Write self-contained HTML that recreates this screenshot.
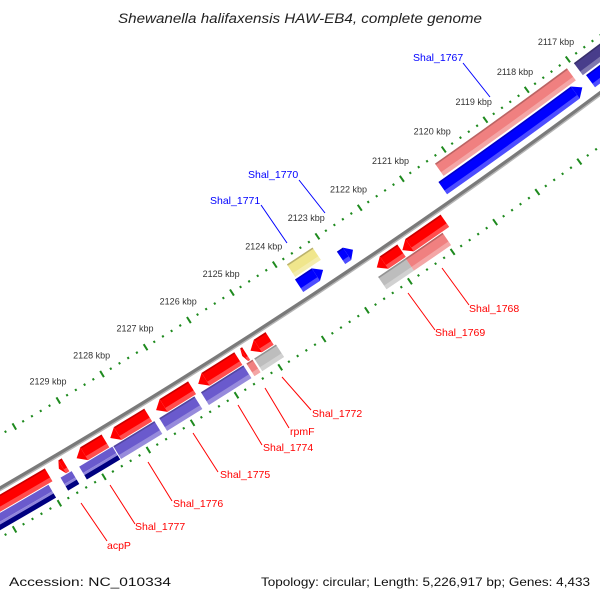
<!DOCTYPE html>
<html><head><meta charset="utf-8"><style>
html,body{margin:0;padding:0;background:#fff}
svg{display:block;font-family:"Liberation Sans",sans-serif}
</style></head><body>
<svg id="chart" width="600" height="600" viewBox="0 0 600 600" xmlns="http://www.w3.org/2000/svg">
<rect width="600" height="600" fill="#fff"/>
<g id="ticks"></g>
<g id="backbone"></g>
<g id="features"></g>
<g id="ticklabels"></g>
<g font-size="10.5">
 <g><line x1="463" y1="63" x2="490" y2="97" stroke="#0000ff" stroke-width="1"/><text x="413" y="61" fill="#0000ff">Shal_1767</text></g>
 <g><line x1="299" y1="180" x2="325" y2="213" stroke="#0000ff" stroke-width="1"/><text x="248" y="178" fill="#0000ff">Shal_1770</text></g>
 <g><line x1="261" y1="205" x2="287" y2="243" stroke="#0000ff" stroke-width="1"/><text x="210" y="204" fill="#0000ff">Shal_1771</text></g>
 <g><line x1="442" y1="268" x2="469" y2="305" stroke="#ff0000" stroke-width="1"/><text x="469" y="312" fill="#ff0000">Shal_1768</text></g>
 <g><line x1="408" y1="293" x2="435" y2="330" stroke="#ff0000" stroke-width="1"/><text x="435" y="336" fill="#ff0000">Shal_1769</text></g>
 <g><line x1="282" y1="377" x2="311" y2="410" stroke="#ff0000" stroke-width="1"/><text x="312" y="417" fill="#ff0000">Shal_1772</text></g>
 <g><line x1="265" y1="388" x2="289" y2="428" stroke="#ff0000" stroke-width="1"/><text x="290" y="435" fill="#ff0000">rpmF</text></g>
 <g><line x1="238" y1="405" x2="262" y2="445" stroke="#ff0000" stroke-width="1"/><text x="263" y="451" fill="#ff0000">Shal_1774</text></g>
 <g><line x1="193" y1="433" x2="218" y2="472" stroke="#ff0000" stroke-width="1"/><text x="220" y="478" fill="#ff0000">Shal_1775</text></g>
 <g><line x1="148" y1="462" x2="172" y2="501" stroke="#ff0000" stroke-width="1"/><text x="173" y="507" fill="#ff0000">Shal_1776</text></g>
 <g><line x1="110" y1="485" x2="135" y2="524" stroke="#ff0000" stroke-width="1"/><text x="135" y="530" fill="#ff0000">Shal_1777</text></g>
 <g><line x1="81" y1="503" x2="107" y2="541" stroke="#ff0000" stroke-width="1"/><text x="107" y="549" fill="#ff0000">acpP</text></g>
</g>
<text x="300" y="23" text-anchor="middle" font-size="13.5" font-style="italic" fill="#222" textLength="364" lengthAdjust="spacingAndGlyphs">Shewanella halifaxensis HAW-EB4, complete genome</text>
<text x="9" y="586" font-size="12" fill="#111" textLength="162" lengthAdjust="spacingAndGlyphs">Accession: NC_010334</text>
<text x="261" y="586" font-size="12" fill="#111" textLength="329" lengthAdjust="spacingAndGlyphs">Topology: circular; Length: 5,226,917 bp; Genes: 4,433</text>
</svg>
<script>
// ---- data (kbp) ----
const tickKbp = [2117,2118,2119,2120,2121,2122,2123,2124,2125,2126,2127,2128,2129];
const tickLabels = ["2117 kbp","2118 kbp","2119 kbp","2120 kbp","2121 kbp","2122 kbp","2123 kbp","2124 kbp","2125 kbp","2126 kbp","2127 kbp","2128 kbp","2129 kbp"];
const featLo = [2114.0,2117.12,2114.0,2117.1,2122.57,2123.2,2123.27,2121.8,2120.78,2121.82,2120.95,2129.9,2129.52,2128.62,2127.65,2126.65,2125.59,2125.41,2124.87,2130.0,2129.48,2128.56,2127.61,2126.70,2125.58,2125.37,2124.83];
const featHi = [2116.95,2120.3,2116.9,2120.45,2122.85,2123.8,2123.83,2122.38,2121.78,2122.46,2121.82,2132.5,2129.67,2129.27,2128.51,2127.47,2126.51,2125.5,2125.31,2132.5,2129.73,2129.31,2128.54,2127.5,2126.55,2125.51,2125.33];
const featTrack = [-2,-2,-1,-1,-1,-2,-1,1,1,2,2,1,1,1,1,1,1,1,1,2,2,2,2,2,2,2,2];
const featColor = ["#483d8b","#f08080","#0000ff","#0000ff","#0000ff","#f0e68c","#0000ff","#ff0000","#ff0000","#bdbdbd","#f08080","#ff0000","#ff0000","#ff0000","#ff0000","#ff0000","#ff0000","#ff0000","#ff0000","#6a5acd","#6a5acd","#6a5acd","#6a5acd","#6a5acd","#6a5acd","#f08080","#bdbdbd"];
const featColor2 = ["","","","","","","","","","","","","","","","","","","","#000080","#000080","#000080","","","","",""];
const featArrow = ["","","","lo","lo","","lo","hi","hi","","","","hi","hi","hi","hi","hi","hi","hi","","","","","","","",""];

// ---- geometry ----
const CX=-3062.5, CY=-4814, A0=56.69, DEG=0.482, R=6123, HALF=7.5;
const trackR = {"-2":6091,"-1":6108,"1":6136,"2":6152};
function ang(k){return (A0+(k-2124)*DEG)*Math.PI/180;}
function pt(r,k){const a=ang(k);return [CX+r*Math.cos(a),CY+r*Math.sin(a)];}
function f(p){return p[0].toFixed(2)+","+p[1].toFixed(2);}
function band(r1,r2,lo,hi){
  return "M"+f(pt(r1,lo))+" A"+r1+","+r1+" 0 0 1 "+f(pt(r1,hi))+" L"+f(pt(r2,hi))+" A"+r2+","+r2+" 0 0 0 "+f(pt(r2,lo))+" Z";
}
const NS="http://www.w3.org/2000/svg";
function mk(tag,attrs,parent){const e=document.createElementNS(NS,tag);for(const k in attrs)e.setAttribute(k,attrs[k]);parent.appendChild(e);return e;}

// backbone
const bb=document.getElementById('backbone');
const bk=mk('path',{d:"M"+f(pt(R,2113))+" A"+R+","+R+" 0 0 1 "+f(pt(R,2134)),fill:"none",stroke:"#7a7a7a","stroke-width":3.5},bb);


const bk2=mk('path',{d:"M"+f(pt(R+2.2,2113))+" A"+(R+2.2)+","+(R+2.2)+" 0 0 1 "+f(pt(R+2.2,2134)),fill:"none",stroke:"#b5b5b5","stroke-width":1.4},bb);



// tick rings
const tg=document.getElementById('ticks');
[6077,6166].forEach(function(rr,ri){
  for(let i=Math.round(2113*5);i<=Math.round(2134*5);i++){
    const k=i/5, major=(i%5===0);
    const len=major?3.6:1.1;
    const ln=mk('line',{x1:pt(rr-len,k)[0],y1:pt(rr-len,k)[1],x2:pt(rr+len,k)[0],y2:pt(rr+len,k)[1],stroke:"#1e8a1e","stroke-width":major?2:2},tg);
    
    
  }
});
// tick labels
const tl=document.getElementById('ticklabels');
tickKbp.forEach(function(k,i){
  const p=pt(6077-20,k);
  const t=mk('text',{x:p[0].toFixed(1),y:(p[1]-1).toFixed(1),"text-anchor":"middle","dominant-baseline":"middle","font-size":"9",fill:"#333"},tl);
  t.textContent=tickLabels[i];
  
  
});

// features
const fg=document.getElementById('features');
featLo.forEach(function(lo,i){
  const hi=featHi[i], rc=trackR[String(featTrack[i])], r1=rc-HALF, r2=rc+HALF;
  const g=mk('g',{},fg);
  
  
  let blo=lo, bhi=hi;
  const h=Math.min(0.17,(hi-lo)*0.5);
  if(featArrow[i]==='lo') blo=lo+h;
  if(featArrow[i]==='hi') bhi=hi-h;
  const c=featColor[i];
  if(featColor2[i]){
    mk('path',{d:band(r1,rc,blo,bhi),fill:c},g);
    mk('path',{d:band(rc,rc+2.5,blo,bhi),fill:"#8f84dc"},g);
    mk('path',{d:band(rc+2.5,r2,blo,bhi),fill:featColor2[i]},g);
  } else {
    mk('path',{d:band(r1,r2,blo,bhi),fill:c},g);
    mk('path',{d:band(r2-4.5,r2,blo,bhi),fill:"#fff","fill-opacity":0.3},g);
    mk('path',{d:band(r1,r1+1.6,blo,bhi),fill:"#000","fill-opacity":0.22},g);
  }
  if(featArrow[i]==='lo'){
    mk('path',{d:"M"+f(pt(r1,blo))+" L"+f(pt(rc,lo))+" L"+f(pt(r2,blo))+" Z",fill:c},g);
  } else if(featArrow[i]==='hi'){
    mk('path',{d:"M"+f(pt(r1,bhi))+" L"+f(pt(rc,hi))+" L"+f(pt(r2,bhi))+" Z",fill:c},g);
  }
});
</script>
</body></html>
